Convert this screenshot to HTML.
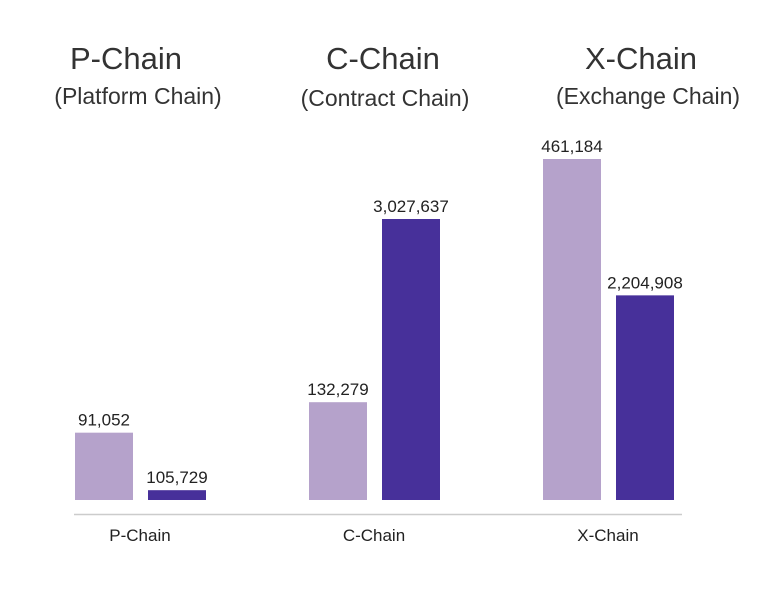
<!DOCTYPE html>
<html><head><meta charset="utf-8"><style>
html,body{margin:0;padding:0;background:#fff;}
body{width:780px;height:588px;overflow:hidden;font-family:"Liberation Sans",sans-serif;}
</style></head><body>
<svg id="chart" width="780" height="588" viewBox="0 0 780 588" xmlns="http://www.w3.org/2000/svg">
<g id="titles" font-family="Liberation Sans, sans-serif" fill="#333" text-anchor="middle">
<text x="126" y="69" font-size="31">P-Chain</text>
<text x="138" y="104" font-size="23">(Platform Chain)</text>
<text x="383" y="69" font-size="31">C-Chain</text>
<text x="385" y="106" font-size="23">(Contract Chain)</text>
<text x="641" y="69" font-size="31">X-Chain</text>
<text x="648" y="104" font-size="23">(Exchange Chain)</text>
</g>
<line x1="74" y1="514.5" x2="682" y2="514.5" stroke="#ccc" stroke-width="1.5"/>
<g id="marks"></g>
</svg>
<script>
const categories = ["P-Chain", "C-Chain", "X-Chain"];
const lightValues = [91052, 132279, 461184];
const darkValues = [105729, 3027637, 2204908];

const baseY = 500;
const groupX = i => 75 + i * 234;
const yLight = v => baseY - v * (341 / 461184);
const yDark = v => baseY - v * (281 / 3027637);
const fmt = v => v.toLocaleString("en-US");
const NS = "http://www.w3.org/2000/svg";
const g = document.getElementById("marks");

function bar(x, y, color, name) {
  const r = document.createElementNS(NS, "rect");
  r.setAttribute("x", x); r.setAttribute("y", y);
  r.setAttribute("width", 58); r.setAttribute("height", baseY - y);
  r.setAttribute("fill", color);
  
  
  g.appendChild(r);
}
function label(x, y, txt, size, name) {
  const t = document.createElementNS(NS, "text");
  t.setAttribute("x", x); t.setAttribute("y", y);
  t.setAttribute("text-anchor", "middle");
  t.setAttribute("font-size", size);
  t.setAttribute("fill", "#222");
  t.textContent = txt;
  
  
  g.appendChild(t);
}
categories.forEach((c, i) => {
  const x0 = groupX(i);
  const x1 = x0 + 73;
  const yl = yLight(lightValues[i]);
  const yd = yDark(darkValues[i]);
  bar(x0, yl, "#b5a2cb", "bar-light-" + c.toLowerCase());
  bar(x1, yd, "#47309a", "bar-dark-" + c.toLowerCase());
  label(x0 + 29, yl - 7, fmt(lightValues[i]), 17, "value-light-" + c.toLowerCase());
  label(x1 + 29, yd - 7, fmt(darkValues[i]), 17, "value-dark-" + c.toLowerCase());
  label(x0 + 65, 541, c, 17, "category-label-" + c.toLowerCase());
});
</script>
</body></html>
